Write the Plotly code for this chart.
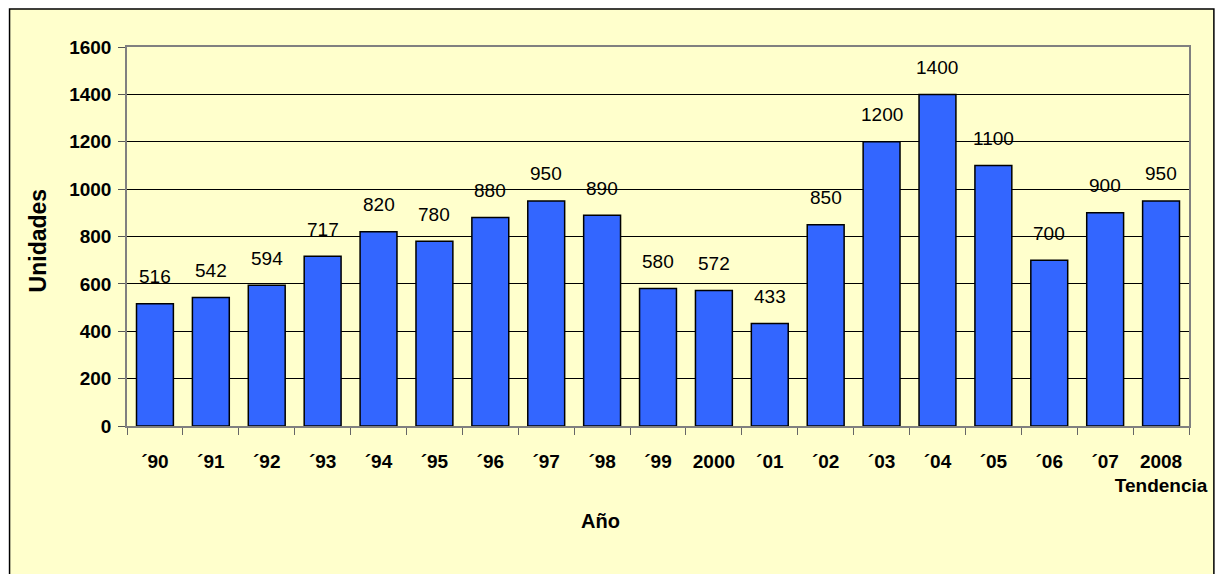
import plotly.graph_objects as go

years = ["´90", "´91", "´92", "´93", "´94", "´95", "´96", "´97", "´98", "´99",
         "2000", "´01", "´02", "´03", "´04", "´05", "´06", "´07", "2008<br>Tendencia"]
units = [516, 542, 594, 717, 820, 780, 880, 950, 890, 580,
         572, 433, 850, 1200, 1400, 1100, 700, 900, 950]
y_ticks = [0, 200, 400, 600, 800, 1000, 1200, 1400, 1600]

W, H = 1220, 574
L, R, T, B = 127, 26, 47, 148
pw, ph = W - L - R, H - T - B

def px(x):
    return (x - L) / pw

def py(y):
    return (H - B - y) / ph

FONT = "Liberation Sans, Arial, sans-serif"

fig = go.Figure()
fig.add_trace(go.Bar(
    x=years, y=units,
    marker=dict(color="#3366FF", line=dict(color="#000000", width=1.5)),
    hoverinfo="x+y",
))

# category index positions (avoid "2000" being read as a numeric index)
for i, v in enumerate(units):
    fig.add_annotation(x=i, y=v, text=str(v), showarrow=False,
                       yanchor="middle", yshift=27,
                       font=dict(family=FONT, size=19, color="#000000"))

fig.add_annotation(xref="paper", yref="paper", x=px(38), y=py(240),
                   xanchor="center", yanchor="middle",
                   text="<b>Unidades</b>", textangle=-90, showarrow=False,
                   font=dict(family=FONT, size=23, color="#000000"))
fig.add_annotation(xref="paper", yref="paper", x=px(603), y=py(521),
                   xanchor="center", yanchor="middle",
                   text="<b>Año</b>", showarrow=False,
                   font=dict(family=FONT, size=20, color="#000000"))

# outer chart area frame
fig.add_shape(type="rect", xref="paper", yref="paper",
              x0=px(9), x1=px(1219), y0=py(590), y1=py(9),
              line=dict(color="#000000", width=1.5),
              fillcolor="#FFFFCC", layer="below")

fig.update_layout(
    width=W, height=H,
    margin=dict(l=L, r=R, t=T, b=B),
    paper_bgcolor="#FFFFFF",
    plot_bgcolor="rgba(0,0,0,0)",
    bargap=0.34,
    showlegend=False,
    font=dict(family=FONT, color="#000000"),
)
fig.update_xaxes(
    type="category",
    range=[-0.5, len(years) - 0.5],
    tickson="boundaries", ticks="outside", ticklen=7, tickcolor="#666666",
    ticklabelstandoff=17,
    showline=True, linecolor="#808080", linewidth=1.5, mirror=True,
    showgrid=False, tickangle=0,
    tickfont=dict(family=FONT, size=19, color="#000000", weight="bold"),
)
fig.update_yaxes(
    range=[0, 1600], tickvals=y_ticks,
    ticks="outside", ticklen=7, tickcolor="#555555",
    ticklabelstandoff=3,
    showline=True, linecolor="#808080", linewidth=1.5, mirror=True,
    showgrid=True, gridcolor="#000000", gridwidth=1,
    zeroline=False,
    tickfont=dict(family=FONT, size=19, color="#000000", weight="bold"),
)

fig.write_html("out.html")
